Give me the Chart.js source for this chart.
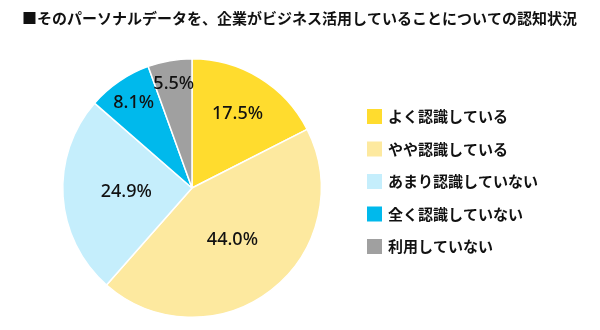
<!DOCTYPE html>
<html lang="ja">
<head>
<meta charset="utf-8">
<title>パーソナルデータの認知状況</title>
<script src="https://cdn.jsdelivr.net/npm/chart.js@4.4.1/dist/chart.umd.min.js"></script>
<style>
  body { margin: 0; background: #fff; }
</style>
</head>
<body>
<canvas id="chart-ninchi" width="600" height="330"></canvas>
<script>
// 企業のパーソナルデータ活用についての認知状況
const title = '■そのパーソナルデータを、企業がビジネス活用していることについての認知状況';
const labels = [
  'よく認識している',
  'やや認識している',
  'あまり認識していない',
  '全く認識していない',
  '利用していない',
];
const values = [17.5, 44.0, 24.9, 8.1, 5.5];
const colors = ['#ffdc2e', '#fde99f', '#c5eefc', '#00b9ec', '#a0a0a0'];

const fontJP = '"Noto Sans CJK JP", "Noto Sans", sans-serif';

// タイトルと凡例（右側）
const sideText = {
  id: 'sideText',
  afterDraw(chart, args, opts) {
    const ctx = chart.ctx;
    ctx.save();
    ctx.fillStyle = '#111';
    ctx.textBaseline = 'middle';
    ctx.font = 'bold 15px ' + fontJP;
    ctx.fillText(title, 22, 18);

    ctx.font = 'bold 15px ' + fontJP;
    chart.data.labels.forEach((label, i) => {
      const y = opts.top + i * opts.step;
      ctx.fillStyle = chart.data.datasets[0].backgroundColor[i];
      ctx.fillRect(opts.left, y - 7.5, 15, 15);
      ctx.fillStyle = '#111';
      ctx.fillText(label, opts.left + 21, y);
    });
    ctx.restore();
  }
};

// 円グラフ内の％表示
const pieLabels = {
  id: 'pieLabels',
  afterDatasetsDraw(chart, args, opts) {
    const ctx = chart.ctx;
    const meta = chart.getDatasetMeta(0);
    ctx.save();
    ctx.fillStyle = '#111';
    ctx.font = '500 18px "Noto Sans", Arial, sans-serif';
    ctx.textAlign = 'center';
    ctx.textBaseline = 'middle';
    meta.data.forEach((arc, i) => {
      const p = arc.getProps(['x', 'y', 'startAngle', 'endAngle', 'outerRadius']);
      const a = (p.startAngle + p.endAngle) / 2;
      const r = p.outerRadius * opts.radius[i];
      const v = chart.data.datasets[0].data[i];
      ctx.fillText(v.toFixed(1) + '%', p.x + Math.cos(a) * r, p.y + Math.sin(a) * r);
    });
    ctx.restore();
  }
};

const ctx = document.getElementById('chart-ninchi');
const myChart = new Chart(ctx, {
  type: 'pie',
  data: {
    labels: labels,
    datasets: [{
      data: values,
      backgroundColor: colors,
      borderColor: '#ffffff',
      borderWidth: 1.5
    }]
  },
  options: {
    responsive: false,
    animation: false,
    layout: {
      padding: { left: 62, right: 278, top: 58, bottom: 12 }
    },
    plugins: {
      legend: { display: false },
      tooltip: { enabled: false },
      sideText: { left: 367, top: 116.5, step: 32.5 },
      pieLabels: { radius: [0.675, 0.51, 0.51, 0.8, 0.82] }
    }
  },
  plugins: [sideText, pieLabels]
});
</script>
</body>
</html>
